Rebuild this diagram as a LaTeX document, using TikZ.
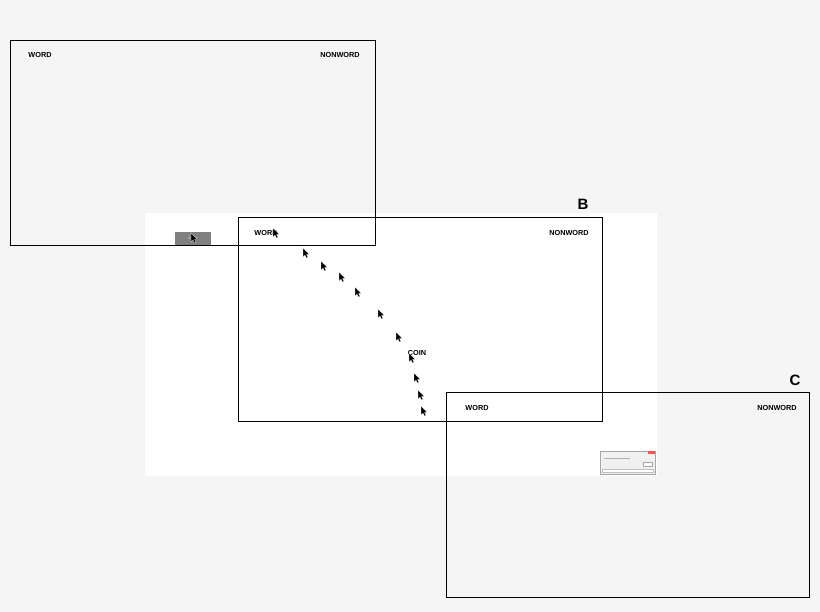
\documentclass[tikz,border=0pt]{standalone}
\usepackage{fontspec}
\setmainfont{Liberation Sans}
\begin{document}
\begin{tikzpicture}[x=1pt,y=-1pt,
  frame/.style={draw=black,line width=0.9pt},
  lbl/.style={font=\bfseries\fontsize{7.3}{8}\selectfont,inner sep=0},
  big/.style={font=\bfseries\fontsize{15}{17}\selectfont,inner sep=0},
  cur/.pic={\fill[black,draw=white,line width=0.2pt] (0,0)--(0,9)--(2,7)--(3.5,10)--(5,9.3)--(3.5,6.5)--(6,6.3)--cycle;}]
\fill[gray!8] (0,0) rectangle (820,612);
\useasboundingbox (0,0) rectangle (820,612);
\fill[white] (145,213) rectangle (657,476);
\node[frame,minimum width=365,minimum height=205,anchor=north west] (A) at (10,40) {};
\node[fill=black!50,minimum width=36,minimum height=13,inner sep=0,anchor=north west,text=white,font=\fontsize{3}{3}\selectfont] (start) at (175,232) {START};
\node[frame,minimum width=364,minimum height=204,anchor=north west] (B) at (238,217) {};
\node[frame,minimum width=363,minimum height=205,anchor=north west] (C) at (446,392) {};
\node[lbl] (aw) at (40,55) {WORD};
\node[lbl] (an) at (340,55) {NONWORD};
\node[lbl] (bw) at (266,233) {WORD};
\node[lbl] (bn) at (569,233) {NONWORD};
\node[lbl] (coin) at (417,353) {COIN};
\node[lbl] (cw) at (477,408) {WORD};
\node[lbl] (cn) at (777,408) {NONWORD};
\node[big] (lb) at (583,204) {B};
\node[big] (lc) at (795,380) {C};
\node[draw=gray!70,fill=gray!12,minimum width=55,minimum height=23,inner sep=0,anchor=north west] (dlg) at (600,451) {};
\fill[red!70] (648,451.5) rectangle (654.5,454);
\draw[gray!60,line width=0.3pt] (604,458)--(630,458);
\draw[gray!70,fill=white,line width=0.3pt] (643,462) rectangle (652,466);
\draw[gray!50,fill=white,line width=0.3pt] (602,469) rectangle (653,472);
\foreach \p in {(191,233),(273,228),(303,248),(321,261),(339,272),(355,287),(378,309),(396,332),(409,353),(414,373),(418,390),(421,406)}
  \pic at \p {cur};
\end{tikzpicture}
\end{document}
